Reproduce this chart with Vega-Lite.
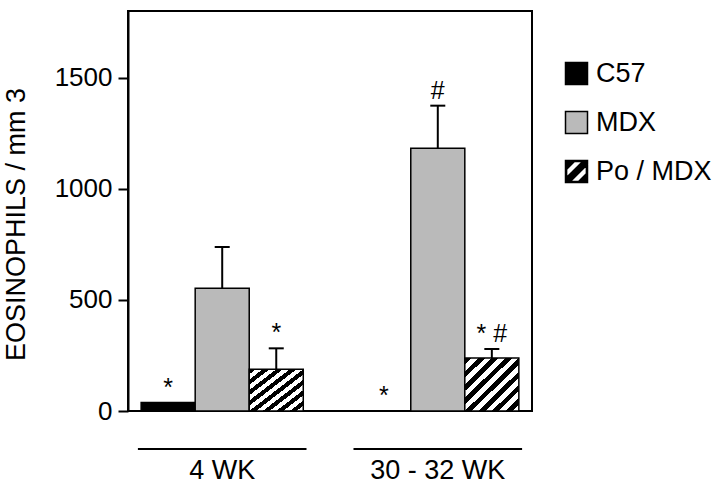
{
  "$schema": "https://vega.github.io/schema/vega-lite/v6.json",
  "autosize": {"type": "none"},
  "padding": {"left": 128, "top": 11, "right": 188, "bottom": 72},
  "width": 404,
  "height": 400,
  "config": {
    "font": "Liberation Sans",
    "view": {"stroke": "black", "strokeWidth": 2},
    "axis": {"labelColor": "black", "titleColor": "black", "grid": false}
  },
  "datasets": {
    "bars": [
      {"group": "4 WK", "series": "C57", "value": 38, "hi": 38, "note": "*"},
      {"group": "4 WK", "series": "MDX", "value": 552, "hi": 738, "note": ""},
      {"group": "4 WK", "series": "Po / MDX", "value": 188, "hi": 282, "note": "*"},
      {"group": "30 - 32 WK", "series": "C57", "value": 0, "hi": 0, "note": "*"},
      {"group": "30 - 32 WK", "series": "MDX", "value": 1182, "hi": 1374, "note": "#"},
      {"group": "30 - 32 WK", "series": "Po / MDX", "value": 238, "hi": 279, "note": "* #"}
    ],
    "brackets": [
      {"group": "4 WK", "top": -166, "bottom": -175},
      {"group": "30 - 32 WK", "top": -166, "bottom": -175}
    ]
  },
  "layer": [
    {
      "data": {"name": "bars"},
      "mark": {"type": "point", "filled": true, "opacity": 0},
      "encoding": {
        "x": {
          "field": "group", "type": "nominal",
          "scale": {"domain": ["4 WK", "30 - 32 WK"], "paddingInner": 0.248, "paddingOuter": 0.061},
          "axis": {"title": null, "domain": false, "ticks": false, "labelFontSize": 27, "labelPadding": 46, "labelAngle": 0}
        },
        "xOffset": {"field": "series", "type": "nominal", "scale": {"domain": ["C57", "MDX", "Po / MDX"], "paddingInner": 0, "paddingOuter": 0}},
        "y": {"field": "value", "type": "quantitative"},
        "shape": {
          "field": "series", "type": "nominal",
          "scale": {"domain": ["C57", "MDX", "Po / MDX"], "range": ["square", "square", "M-1,-1L1,-1L1,1L-1,1Z M-0.9,-0.9L-0.9,0.9L0.9,0.9L0.9,-0.9Z M-1,-1L-0.1,-1L-1,-0.1Z M-1,0.65L0.65,-1L1,-1L1,-0.65L-0.65,1L-1,1Z M1,1L0.1,1L1,0.1Z"]},
          "legend": {
            "title": null, "orient": "none", "legendX": 435, "legendY": 49,
            "symbolSize": 484, "symbolStrokeColor": "black", "symbolStrokeWidth": 1.5,
            "symbolOpacity": 1, "labelFontSize": 27, "labelColor": "black", "labelOffset": 6, "rowPadding": 20, "padding": 0,
            "encode": {"symbols": {"update": {"stroke": {"value": "black"}, "strokeWidth": {"value": 1.5}, "opacity": {"value": 1}}}}
          }
        }
      }
    },
    {
      "data": {"name": "bars"},
      "mark": {"type": "bar", "stroke": "black", "strokeWidth": 1.5},
      "encoding": {
        "x": {"field": "group", "type": "nominal"},
        "xOffset": {"field": "series", "type": "nominal"},
        "y": {
          "field": "value", "type": "quantitative",
          "scale": {"domain": [0, 1800], "nice": false, "zero": true},
          "axis": {
            "title": "EOSINOPHILS / mm 3", "values": [0, 500, 1000, 1500], "format": "d",
            "labelFontSize": 26, "titleFontSize": 27, "titleFontWeight": "normal",
            "tickSize": 10, "tickWidth": 2, "tickColor": "black", "domainColor": "black", "domainWidth": 2,
            "labelPadding": 6, "titlePadding": 24, "titleY": 213
          }
        },
        "fill": {
          "condition": {
            "test": "datum.series === 'Po / MDX'",
            "value": {"gradient": "linear", "x1": 0, "y1": 0, "x2": 1, "y2": 1, "stops": [
              {"offset": 0, "color": "black"}, {"offset": 0.0625, "color": "black"}, {"offset": 0.0625, "color": "white"}, {"offset": 0.125, "color": "white"},
              {"offset": 0.125, "color": "black"}, {"offset": 0.1875, "color": "black"}, {"offset": 0.1875, "color": "white"}, {"offset": 0.25, "color": "white"},
              {"offset": 0.25, "color": "black"}, {"offset": 0.3125, "color": "black"}, {"offset": 0.3125, "color": "white"}, {"offset": 0.375, "color": "white"},
              {"offset": 0.375, "color": "black"}, {"offset": 0.4375, "color": "black"}, {"offset": 0.4375, "color": "white"}, {"offset": 0.5, "color": "white"},
              {"offset": 0.5, "color": "black"}, {"offset": 0.5625, "color": "black"}, {"offset": 0.5625, "color": "white"}, {"offset": 0.625, "color": "white"},
              {"offset": 0.625, "color": "black"}, {"offset": 0.6875, "color": "black"}, {"offset": 0.6875, "color": "white"}, {"offset": 0.75, "color": "white"},
              {"offset": 0.75, "color": "black"}, {"offset": 0.8125, "color": "black"}, {"offset": 0.8125, "color": "white"}, {"offset": 0.875, "color": "white"},
              {"offset": 0.875, "color": "black"}, {"offset": 0.9375, "color": "black"}, {"offset": 0.9375, "color": "white"}, {"offset": 1, "color": "white"}
            ]}
          },
          "field": "series", "type": "nominal",
          "scale": {"domain": ["C57", "MDX", "Po / MDX"], "range": ["#000000", "#bababa", "#000000"]},
          "legend": {
            "title": null, "orient": "none", "legendX": 435, "legendY": 49,
            "symbolSize": 484, "symbolStrokeColor": "black", "symbolStrokeWidth": 1.5,
            "symbolOpacity": 1, "labelFontSize": 27, "labelColor": "black", "labelOffset": 6, "rowPadding": 20, "padding": 0,
            "encode": {"symbols": {"update": {"stroke": {"value": "black"}, "strokeWidth": {"value": 1.5}, "opacity": {"value": 1}}}}
          }
        }
      }
    },
    {
      "data": {"name": "bars"},
      "transform": [{"filter": "datum.hi > datum.value"}],
      "mark": {"type": "rule", "color": "black", "strokeWidth": 2},
      "encoding": {
        "x": {"field": "group", "type": "nominal"},
        "xOffset": {"field": "series", "type": "nominal"},
        "y": {"field": "value", "type": "quantitative"},
        "y2": {"field": "hi"}
      }
    },
    {
      "data": {"name": "bars"},
      "transform": [{"filter": "datum.hi > datum.value"}],
      "mark": {"type": "tick", "color": "black", "thickness": 2, "size": 15, "opacity": 1},
      "encoding": {
        "x": {"field": "group", "type": "nominal"},
        "xOffset": {"field": "series", "type": "nominal"},
        "y": {"field": "hi", "type": "quantitative"}
      }
    },
    {
      "data": {"name": "bars"},
      "transform": [{"filter": "datum.note !== ''"}],
      "mark": {"type": "text", "color": "black", "fontSize": 25, "baseline": "alphabetic", "dy": -7},
      "encoding": {
        "x": {"field": "group", "type": "nominal"},
        "xOffset": {"field": "series", "type": "nominal"},
        "y": {"field": "hi", "type": "quantitative"},
        "text": {"field": "note"}
      }
    },
    {
      "data": {"name": "brackets"},
      "mark": {"type": "bar", "color": "black", "width": {"band": 1.04}},
      "encoding": {
        "x": {"field": "group", "type": "nominal"},
        "y": {"field": "top", "type": "quantitative"},
        "y2": {"field": "bottom"}
      }
    }
  ]
}
